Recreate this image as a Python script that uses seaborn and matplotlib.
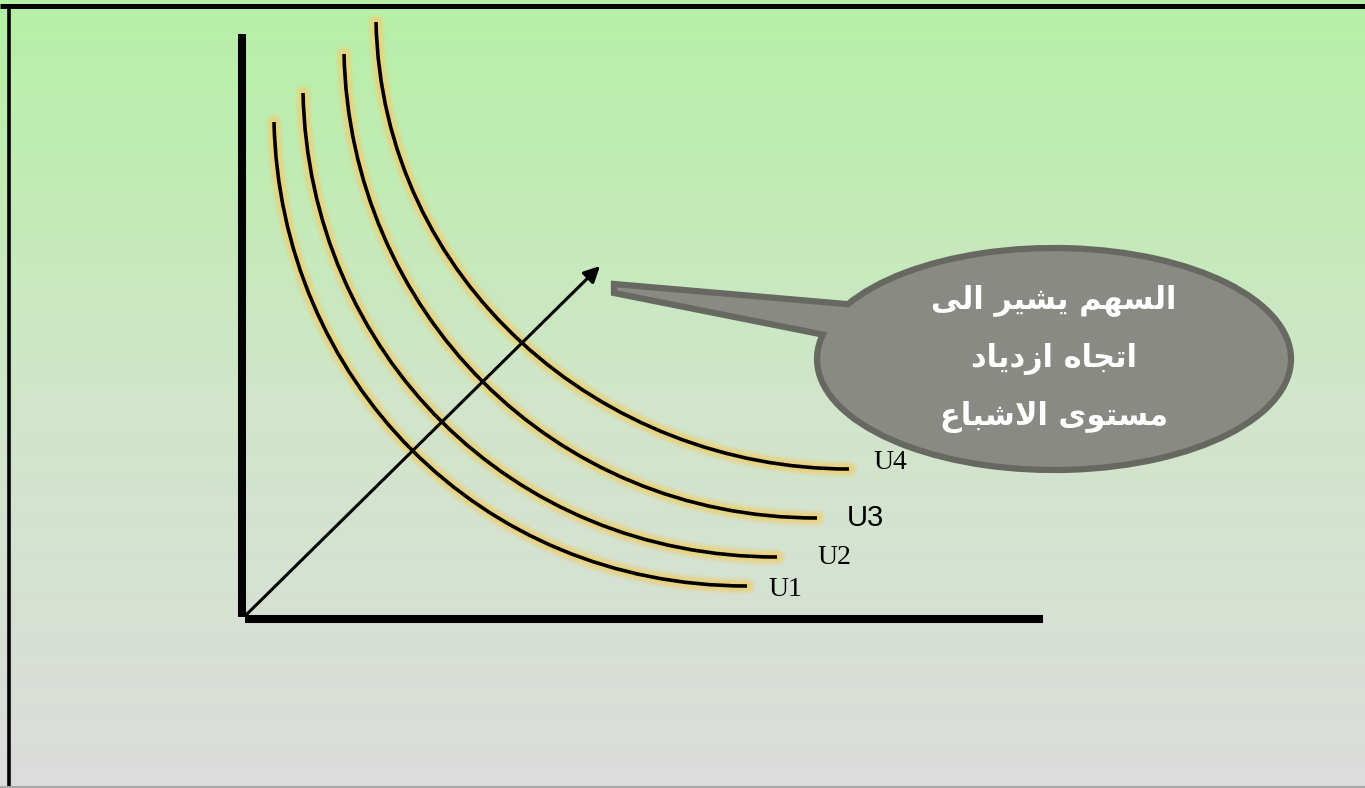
import numpy as np
import pandas as pd
import seaborn as sns
from matplotlib import pyplot as plt
from matplotlib.path import Path
from matplotlib.patches import PathPatch
from matplotlib.transforms import Affine2D
from matplotlib.colors import LinearSegmentedColormap

# indifference curves: start, two control points, end (pixel-like data units, y down)
curve_names = ['U1', 'U2', 'U3', 'U4']
curve_start = [(274, 122), (303, 93), (344, 54), (376, 22)]
curve_ctrl1 = [(280, 378), (309, 352), (350, 310), (382, 282)]
curve_ctrl2 = [(478, 586), (510, 557), (551, 518), (602, 469)]
curve_end = [(747, 586), (777, 557), (817, 518), (849, 469)]

# labels next to each curve
label_pos = [(768, 590), (817, 558), (847, 518), (873, 462)]
label_font = ['Liberation Serif', 'Liberation Serif', 'Liberation Sans', 'Liberation Serif']
label_size = [20, 20, 21, 20]

# axes of the diagram
y_axis = pd.DataFrame({'x': [242, 242], 'y': [34, 617]})
x_axis = pd.DataFrame({'x': [245, 1043], 'y': [619, 619]})
arrow_from = (246, 615)
arrow_to = (600, 266)

# callout
bubble_lines = ['السهم يشير الى', 'اتجاه ازدياد', 'مستوى الاشباع']
bubble_line_y = [300, 359, 417]
bubble_center = (1054, 359)
bubble_radii = (237, 111)
bubble_arc = (-150.4, 192.7)
bubble_tip = [(614, 293), (614, 284)]

# minimal arabic shaping: isolated, final, initial, medial
FORMS = {
    'ا': ('\ufe8d', '\ufe8e', None, None),
    'ب': ('\ufe8f', '\ufe90', '\ufe91', '\ufe92'),
    'ت': ('\ufe95', '\ufe96', '\ufe97', '\ufe98'),
    'ج': ('\ufe9d', '\ufe9e', '\ufe9f', '\ufea0'),
    'د': ('\ufea9', '\ufeaa', None, None),
    'ر': ('\ufead', '\ufeae', None, None),
    'ز': ('\ufeaf', '\ufeb0', None, None),
    'س': ('\ufeb1', '\ufeb2', '\ufeb3', '\ufeb4'),
    'ش': ('\ufeb5', '\ufeb6', '\ufeb7', '\ufeb8'),
    'ع': ('\ufec9', '\ufeca', '\ufecb', '\ufecc'),
    'ل': ('\ufedd', '\ufede', '\ufedf', '\ufee0'),
    'م': ('\ufee1', '\ufee2', '\ufee3', '\ufee4'),
    'ه': ('\ufee9', '\ufeea', '\ufeeb', '\ufeec'),
    'و': ('\ufeed', '\ufeee', None, None),
    'ى': ('\ufeef', '\ufef0', None, None),
    'ي': ('\ufef1', '\ufef2', '\ufef3', '\ufef4'),
}


def dual(c):
    return c in FORMS and FORMS[c][2] is not None


def shape_arabic(text):
    out = []
    i = 0
    while i < len(text):
        c = text[i]
        if c not in FORMS:
            out.append(c)
            i += 1
            continue
        joins_prev = i > 0 and dual(text[i - 1])
        if c == 'ل' and i + 1 < len(text) and text[i + 1] == 'ا':
            out.append('\ufefc' if joins_prev else '\ufefb')
            i += 2
            continue
        joins_next = dual(c) and i + 1 < len(text) and text[i + 1] in FORMS
        iso, fin, ini, med = FORMS[c]
        if joins_prev and joins_next:
            out.append(med)
        elif joins_prev:
            out.append(fin)
        elif joins_next:
            out.append(ini)
        else:
            out.append(iso)
        i += 1
    return ''.join(reversed(out))


sns.set_theme(style='white')
plt.rcParams['font.family'] = ['DejaVu Sans']

fig = plt.figure(figsize=(13.65, 7.88), dpi=100)
ax = fig.add_axes([0, 0, 1, 1])
ax.set_xlim(0, 1365)
ax.set_ylim(788, 0)
ax.axis('off')

# background gradient
bg = LinearSegmentedColormap.from_list('bg', ['#b6f0a6', '#d0e6c9', '#dcdcdc'])
ax.imshow(np.linspace(0, 1, 256).reshape(-1, 1), cmap=bg, aspect='auto',
          extent=[0, 1365, 788, 0], zorder=0)

# frame
ax.plot([0, 1365], [5.5, 5.5], color='black', lw=3.6, solid_capstyle='butt', zorder=1)
ax.plot([9, 9], [5, 788], color='black', lw=2.6, solid_capstyle='butt', zorder=1)
ax.plot([0, 1365], [787, 787], color='#a8a8a8', lw=1.5, zorder=1)

# diagram axes
for df in (y_axis, x_axis):
    sns.lineplot(data=df, x='x', y='y', estimator=None, color='black', lw=5.8, sort=False,
                 ax=ax, solid_capstyle='butt', zorder=3)

# curves with a soft yellow glow
codes = [Path.MOVETO, Path.CURVE4, Path.CURVE4, Path.CURVE4]
for name, p0, p1, p2, p3 in zip(curve_names, curve_start, curve_ctrl1, curve_ctrl2, curve_end):
    path = Path([p0, p1, p2, p3], codes)
    for w, a in [(13, 0.14), (11, 0.2), (9, 0.3), (7, 0.45), (5.5, 0.7)]:
        ax.add_patch(PathPatch(path, fill=False, edgecolor='#ecd27a', lw=w, alpha=a,
                               capstyle='round', zorder=2))
    ax.add_patch(PathPatch(path, fill=False, edgecolor='black', lw=2.6,
                           capstyle='butt', zorder=4))

for name, (x, y), fam, fs in zip(curve_names, label_pos, label_font, label_size):
    ax.text(x, y, name, family=fam, fontsize=fs, color='black', ha='left', va='center', zorder=5)

# arrow
ax.annotate('', xy=arrow_to, xytext=arrow_from,
            arrowprops=dict(arrowstyle='-|>', color='black', lw=2.2, mutation_scale=24,
                            shrinkA=0, shrinkB=0), zorder=5)

# callout bubble with tail
arc = Path.arc(*bubble_arc)
arc = arc.transformed(Affine2D().scale(*bubble_radii).translate(*bubble_center))
verts = list(arc.vertices) + bubble_tip + [arc.vertices[0]]
bcodes = list(arc.codes) + [Path.LINETO, Path.LINETO, Path.CLOSEPOLY]
ax.add_patch(PathPatch(Path(verts, bcodes), facecolor='#8a8a84', edgecolor='#686862',
                       lw=4.5, joinstyle='miter', zorder=6))

for line, y in zip(bubble_lines, bubble_line_y):
    ax.text(bubble_center[0], y, shape_arabic(line), family='DejaVu Sans', fontweight='bold',
            fontsize=22, color='white', ha='center', va='center', zorder=7)

fig.savefig('out.png', dpi=100)
